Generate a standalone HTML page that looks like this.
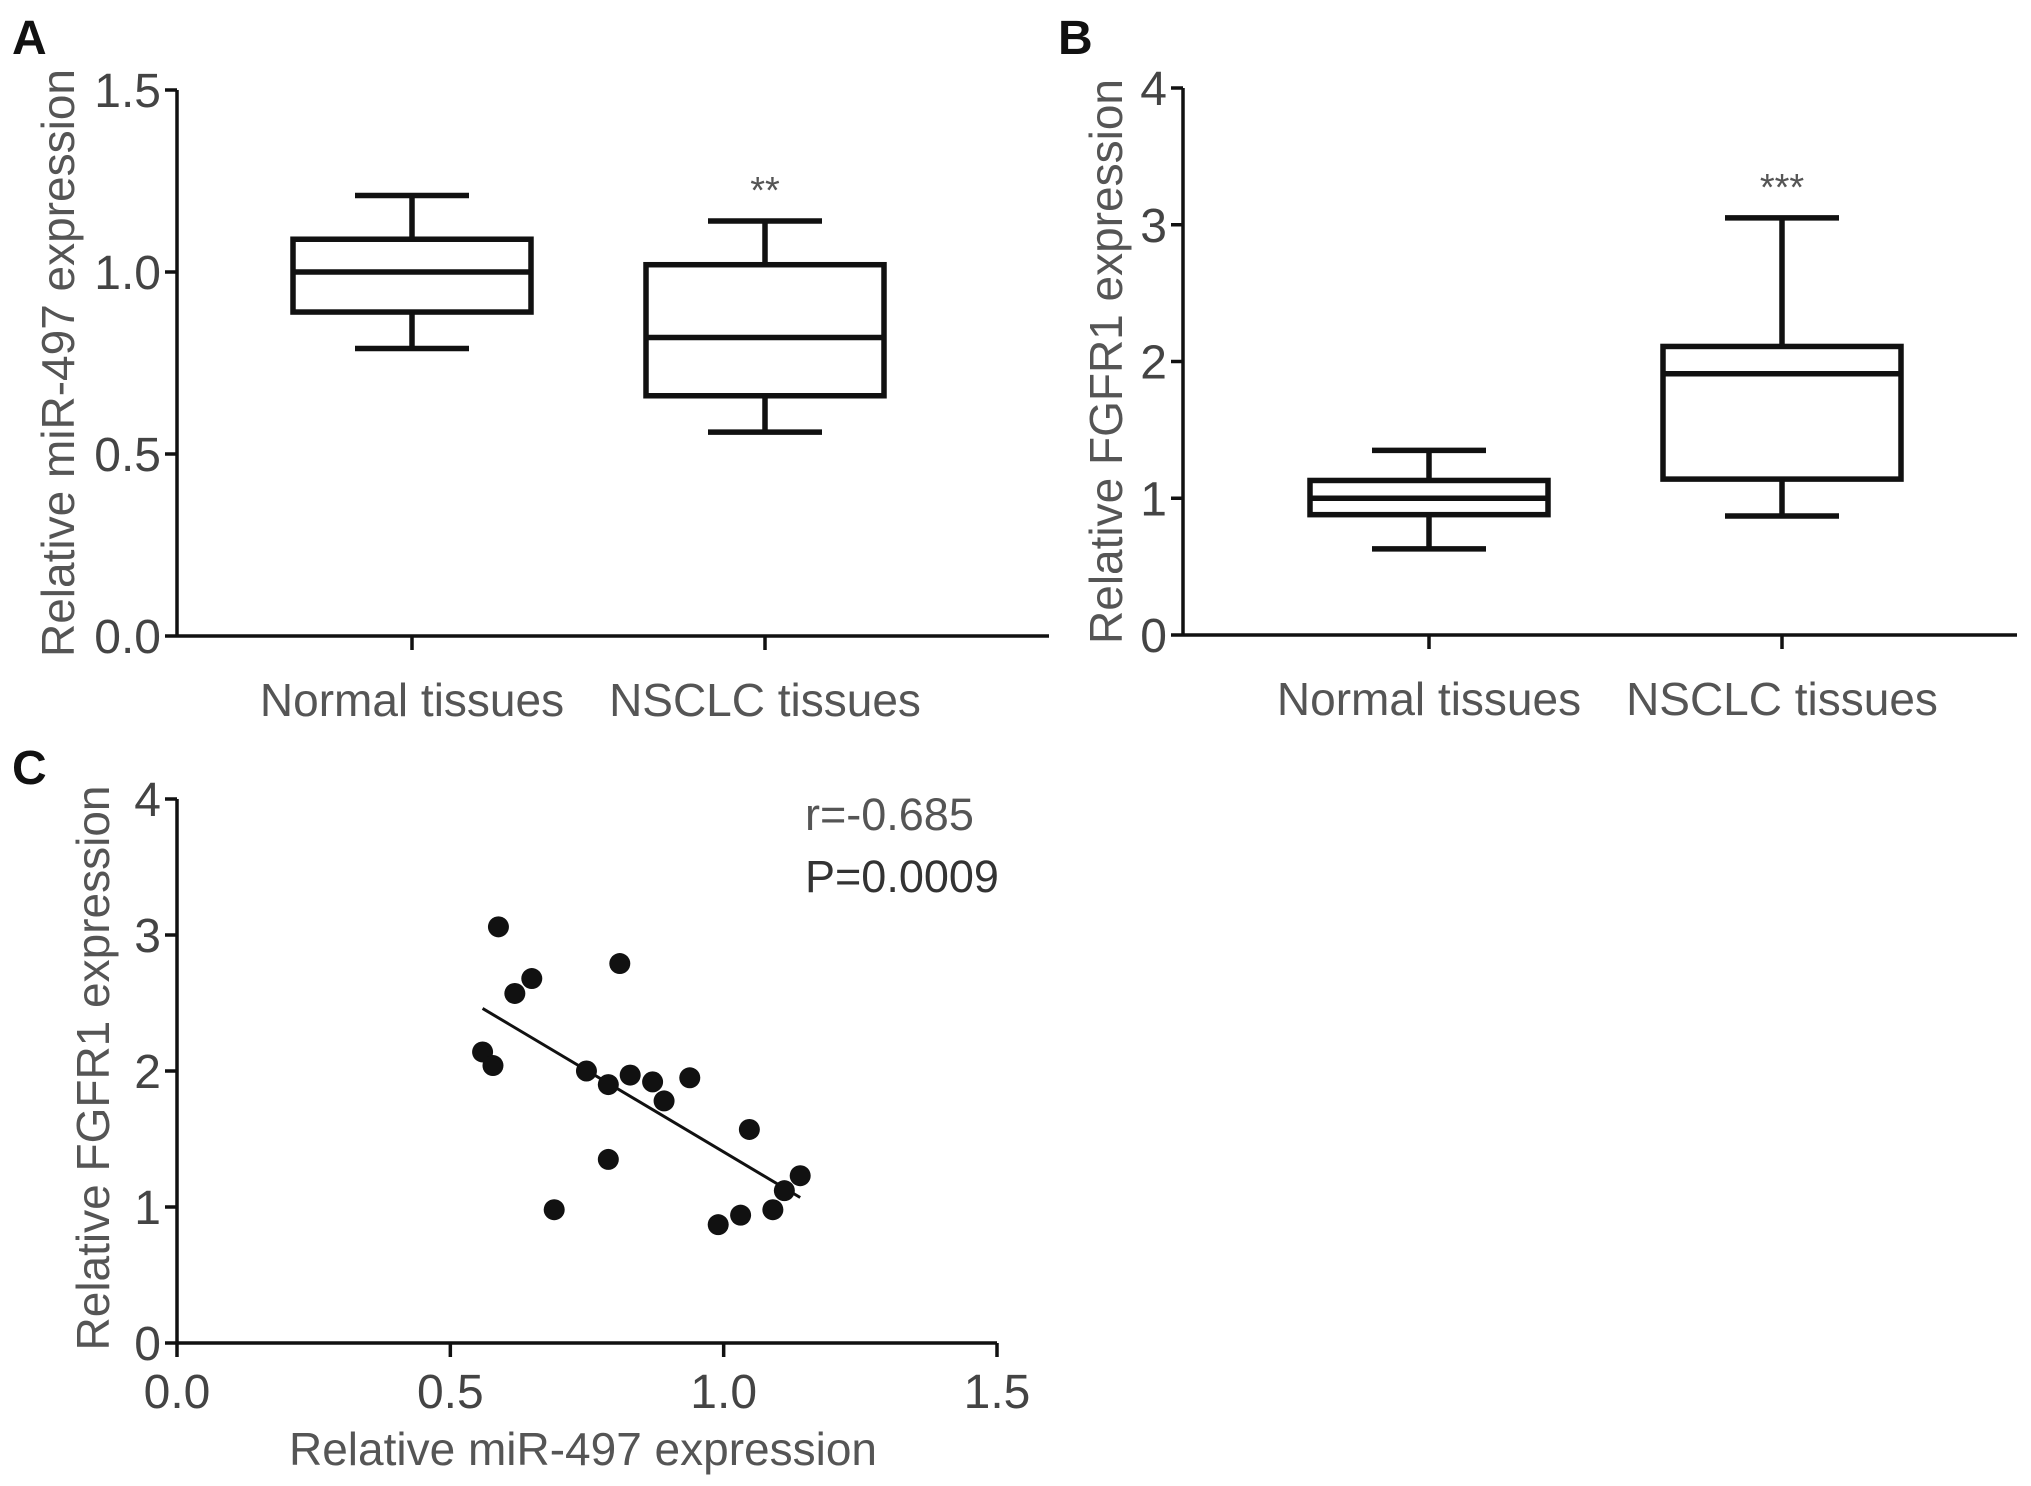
<!DOCTYPE html>
<html><head><meta charset="utf-8">
<style>
html,body{margin:0;padding:0;background:#fff;}
svg{display:block;font-family:"Liberation Sans",Arial,sans-serif;}
</style></head>
<body>
<svg id="fig" width="2031" height="1486" viewBox="0 0 2031 1486" xmlns="http://www.w3.org/2000/svg"></svg>
<script>
// Panel A data
const catsA = ["Normal tissues", "NSCLC tissues"];
const maxA = [1.21, 1.14];
const q3A = [1.09, 1.02];
const medA = [1.00, 0.82];
const q1A = [0.89, 0.66];
const minA = [0.79, 0.56];
const ticksA = [0.0, 0.5, 1.0, 1.5];
const tickLabelsA = ["0.0", "0.5", "1.0", "1.5"];
const sigA = ["", "**"];
// Panel B data
const catsB = ["Normal tissues", "NSCLC tissues"];
const maxB = [1.35, 3.05];
const q3B = [1.13, 2.11];
const medB = [1.00, 1.91];
const q1B = [0.88, 1.14];
const minB = [0.63, 0.87];
const ticksB = [0, 1, 2, 3, 4];
const tickLabelsB = ["0", "1", "2", "3", "4"];
const sigB = ["", "***"];
// Panel C data
const xC = [0.588, 0.81, 0.649, 0.618, 0.559, 0.578, 0.749, 0.829, 0.789, 0.87, 0.891, 0.938, 1.047, 0.789, 0.69, 1.14, 1.111, 1.09, 1.031, 0.99];
const yC = [3.06, 2.79, 2.68, 2.57, 2.14, 2.04, 2.0, 1.97, 1.90, 1.92, 1.78, 1.95, 1.57, 1.35, 0.98, 1.23, 1.12, 0.98, 0.94, 0.87];
const fitX = [0.559, 1.14];
const fitY = [2.46, 1.07];
const xTicksC = [0.0, 0.5, 1.0, 1.5];
const xTickLabelsC = ["0.0", "0.5", "1.0", "1.5"];
const yTicksC = [0, 1, 2, 3, 4];
const yTickLabelsC = ["0", "1", "2", "3", "4"];

const NS = "http://www.w3.org/2000/svg";
const svg = document.getElementById("fig");
function el(tag, attrs, parent, text) {
  const e = document.createElementNS(NS, tag);
  for (const k in attrs) e.setAttribute(k, attrs[k]);
  if (text !== undefined) e.textContent = text;
  (parent || svg).appendChild(e);
  return e;
}
function lin(d0, d1, r0, r1) { return v => r0 + (v - d0) * (r1 - r0) / (d1 - d0); }
const TICKFS = 48, TITLEFS = 46;

function boxPanel(cfg) {
  const g = el("g", {});
  
  
  const y = lin(cfg.dmin, cfg.dmax, cfg.y0, cfg.y1);
  const lbl = el("text", {x: cfg.letterX, y: cfg.letterY, "font-size": 48, "font-weight": "bold", fill: "#111"}, g, cfg.letter);
  
  
  const ya = el("line", {x1: cfg.ax, y1: y(cfg.dmax), x2: cfg.ax, y2: cfg.y0, stroke: "#111", "stroke-width": 3.5}, g);
  
  
  const xa = el("line", {x1: cfg.ax, y1: cfg.y0, x2: cfg.axEnd, y2: cfg.y0, stroke: "#111", "stroke-width": 3.5}, g);
  
  
  cfg.ticks.forEach((t, i) => {
    const tk = el("line", {x1: cfg.ax - 12, y1: y(t), x2: cfg.ax, y2: y(t), stroke: "#111", "stroke-width": 3.5}, g);
    
    
    const tl = el("text", {x: cfg.ax - 16, y: y(t) + 17, "font-size": TICKFS, fill: "#444", "text-anchor": "end"}, g, cfg.tickLabels[i]);
    
    
  });
  const yt = el("text", {x: 0, y: 0, "font-size": TITLEFS, fill: "#555", "text-anchor": "middle", transform: `translate(${cfg.titleX},${(y(cfg.dmax) + cfg.y0) / 2}) rotate(-90)`}, g, cfg.title);
  
  
  cfg.cats.forEach((c, i) => {
    const cx = cfg.catX[i], hw = 119, cw = 57;
    const tk = el("line", {x1: cx, y1: cfg.y0, x2: cx, y2: cfg.y0 + 14, stroke: "#111", "stroke-width": 3.5}, g);
    
    
    const cl = el("text", {x: cx, y: cfg.y0 + 80, "font-size": TITLEFS, fill: "#555", "text-anchor": "middle"}, g, c);
    
    
    const bg = el("g", {stroke: "#111", "stroke-width": 5.5, fill: "none"}, g);
    
    
    el("rect", {x: cx - hw, y: y(cfg.q3[i]), width: 2 * hw, height: y(cfg.q1[i]) - y(cfg.q3[i])}, bg);
    el("line", {x1: cx - hw, y1: y(cfg.med[i]), x2: cx + hw, y2: y(cfg.med[i])}, bg);
    el("line", {x1: cx, y1: y(cfg.q3[i]), x2: cx, y2: y(cfg.max[i])}, bg);
    el("line", {x1: cx, y1: y(cfg.q1[i]), x2: cx, y2: y(cfg.min[i])}, bg);
    el("line", {x1: cx - cw, y1: y(cfg.max[i]), x2: cx + cw, y2: y(cfg.max[i])}, bg);
    el("line", {x1: cx - cw, y1: y(cfg.min[i]), x2: cx + cw, y2: y(cfg.min[i])}, bg);
    if (cfg.sig[i]) {
      const s = el("text", {x: cx, y: y(cfg.max[i]) - 18, "font-size": 38, fill: "#555", "text-anchor": "middle"}, g, cfg.sig[i]);
      
      
    }
  });
}

boxPanel({name: "panel-a", letter: "A", letterX: 12, letterY: 54, ax: 177, axEnd: 1049, y0: 636, y1: 90, dmin: 0, dmax: 1.5,
  ticks: ticksA, tickLabels: tickLabelsA, title: "Relative miR-497 expression", titleX: 74,
  cats: catsA, catX: [412, 765], max: maxA, q3: q3A, med: medA, q1: q1A, min: minA, sig: sigA});
boxPanel({name: "panel-b", letter: "B", letterX: 1058, letterY: 54, ax: 1183, axEnd: 2017, y0: 635, y1: 88, dmin: 0, dmax: 4,
  ticks: ticksB, tickLabels: tickLabelsB, title: "Relative FGFR1 expression", titleX: 1122,
  cats: catsB, catX: [1429, 1782], max: maxB, q3: q3B, med: medB, q1: q1B, min: minB, sig: sigB});

// Panel C
(function () {
  const g = el("g", {});
  
  
  const x = lin(0, 1.5, 177, 997), y = lin(0, 4, 1343, 799);
  const lbl = el("text", {x: 12, y: 784, "font-size": 48, "font-weight": "bold", fill: "#111"}, g, "C");
  
  
  const ya = el("line", {x1: 177, y1: 799, x2: 177, y2: 1343, stroke: "#111", "stroke-width": 3.5}, g);
  
  
  const xa = el("line", {x1: 177, y1: 1343, x2: 997, y2: 1343, stroke: "#111", "stroke-width": 3.5}, g);
  
  
  yTicksC.forEach((t, i) => {
    const tk = el("line", {x1: 165, y1: y(t), x2: 177, y2: y(t), stroke: "#111", "stroke-width": 3.5}, g);
    
    
    const tl = el("text", {x: 161, y: y(t) + 17, "font-size": TICKFS, fill: "#444", "text-anchor": "end"}, g, yTickLabelsC[i]);
    
    
  });
  xTicksC.forEach((t, i) => {
    const tk = el("line", {x1: x(t), y1: 1343, x2: x(t), y2: 1357, stroke: "#111", "stroke-width": 3.5}, g);
    
    
    const tl = el("text", {x: x(t), y: 1408, "font-size": TICKFS, fill: "#444", "text-anchor": "middle"}, g, xTickLabelsC[i]);
    
    
  });
  const yt = el("text", {x: 0, y: 0, "font-size": TITLEFS, fill: "#555", "text-anchor": "middle", transform: "translate(109,1068) rotate(-90)"}, g, "Relative FGFR1 expression");
  
  
  const xt = el("text", {x: 583, y: 1465, "font-size": TITLEFS, fill: "#555", "text-anchor": "middle"}, g, "Relative miR-497 expression");
  
  
  const fl = el("line", {x1: x(fitX[0]), y1: y(fitY[0]), x2: x(fitX[1]), y2: y(fitY[1]), stroke: "#111", "stroke-width": 3}, g);
  
  
  xC.forEach((v, i) => {
    const c = el("circle", {cx: x(v), cy: y(yC[i]), r: 10.5, fill: "#111"}, g);
    
    
  });
  const r = el("text", {x: 805, y: 830, "font-size": 45, fill: "#555"}, g, "r=-0.685");
  
  
  const p = el("text", {x: 805, y: 892, "font-size": 45, fill: "#333"}, g, "P=0.0009");
  
  
})();
</script>
</body></html>
